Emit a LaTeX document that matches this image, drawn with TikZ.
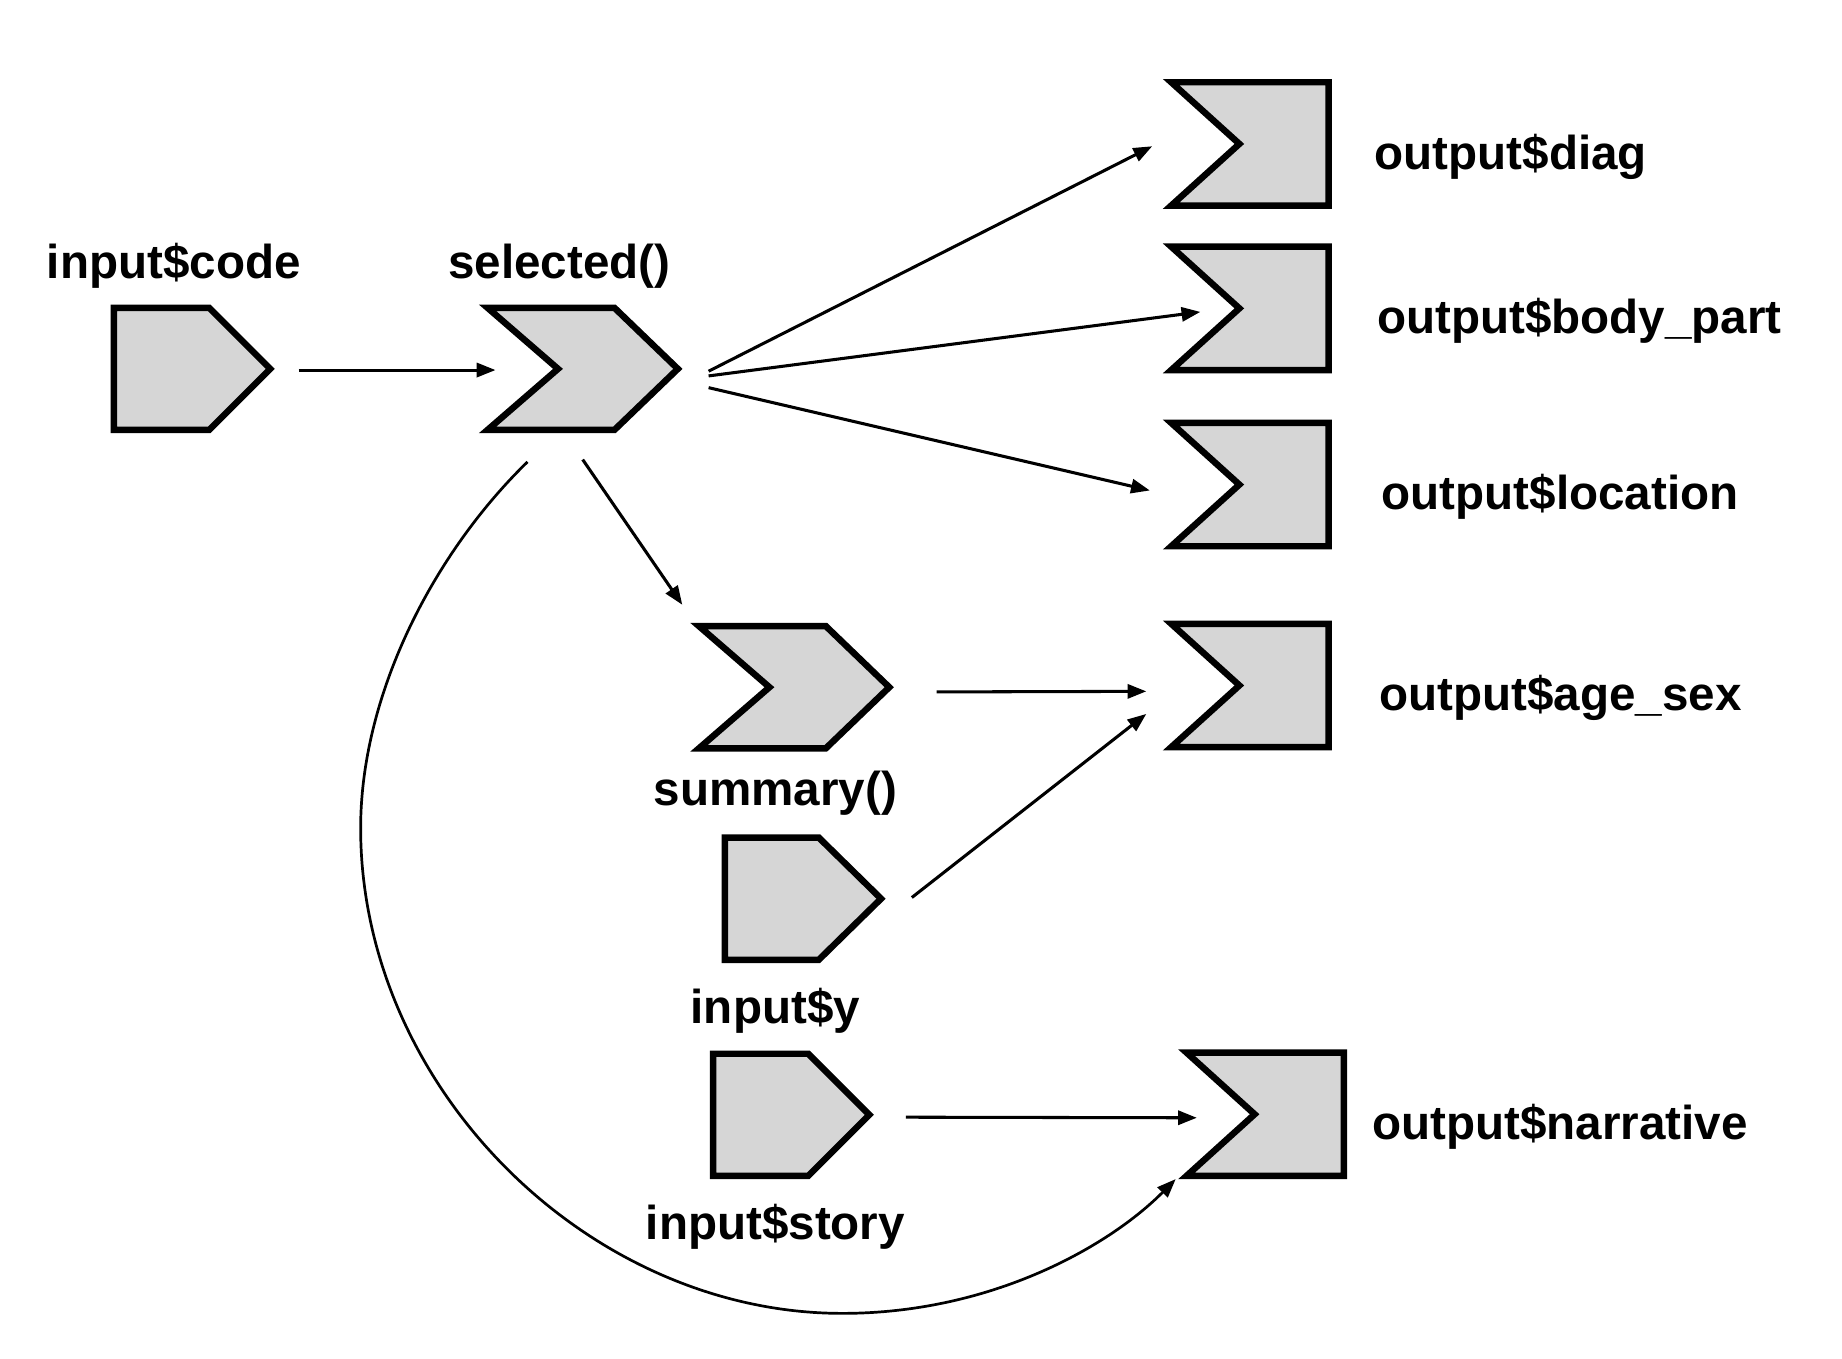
\documentclass[tikz,border=0pt]{standalone}
\usepackage{fontspec}
\setmainfont{Liberation Sans}
\usetikzlibrary{arrows.meta,calc}
\definecolor{shapefill}{RGB}{214,214,214}
\tikzset{
  shp/.style={draw=black,fill=shapefill,line width=5.5pt,miter limit=10},
  hold/.style={rectangle,inner sep=0pt,minimum width=#1,minimum height=104pt},
  conn/.style={line width=2.6pt,-{Triangle[length=16pt,width=12pt]}},
  lbl/.style={font=\fontsize{40.5}{48}\selectfont\bfseries,inner sep=0pt},
}
\newcommand\pentshape[4]{% name, left x, top y, shoulder
  \node[hold=133pt] (#1) at (#2+66.5,#3+52) {};
  \draw[shp] (#2,#3) -- ++(#4,0) -- ++(133-#4,52) -- ++(#4-133,52) -- ++(-#4,0) -- cycle;
}
\newcommand\chevshape[3]{% name, left x, top y
  \node[hold=162pt] (#1) at (#2+81,#3+52) {};
  \draw[shp] (#2,#3) -- ++(108,0) -- ++(54,52) -- ++(-54,52) -- ++(-108,0) -- ++(60,-52) -- cycle;
}
\newcommand\outshape[3]{% name, left x, top y
  \node[hold=134pt] (#1) at (#2+67,#3+52.5) {};
  \draw[shp] (#2,#3) -- ++(134,0) -- ++(0,105) -- ++(-134,0) -- ++(58,-52.5) -- cycle;
}
\begin{document}
\begin{tikzpicture}[x=1pt,y=-1pt]
\useasboundingbox (0,0) rectangle (1568,1156);
% shapes
\pentshape{code}{97}{262}{81}
\chevshape{selected}{415}{262}
\outshape{diag}{997}{70}
\outshape{body}{997}{210}
\outshape{location}{997}{360}
\chevshape{summary}{595}{533}
\outshape{agesex}{997}{531}
\pentshape{iny}{617}{713}{80}
\pentshape{story}{607}{897}{81}
\outshape{narrative}{1010}{896}
% labels
\node[lbl,anchor=base] (lcode) at (148,237) {input\$code};
\node[lbl,anchor=base] (lsel) at (476,237) {selected()};
\node[lbl,anchor=base west] (ldiag) at (1170,144) {output\$diag};
\node[lbl,anchor=base west] (lbody) at (1172,284) {output\$body\_part};
\node[lbl,anchor=base west] (lloc) at (1176,434) {output\$location};
\node[lbl,anchor=base west] (lage) at (1174,605) {output\$age\_sex};
\node[lbl,anchor=base] (lsum) at (660,686) {summary()};
\node[lbl,anchor=base] (liny) at (660,871) {input\$y};
\node[lbl,anchor=base] (lstory) at (660,1055) {input\$story};
\node[lbl,anchor=base west] (lnarr) at (1168,970) {output\$narrative};
% connectors
\draw[conn] ($(code.east)+(24,1)$) -- ($(selected.west)+(7,1)$);
\draw[conn] ($(selected.east)+(26,2)$) -- ($(diag.west)+(-16,2)$);
\draw[conn] ($(selected.east)+(26,6)$) -- ($(body.west)+(25,3)$);
\draw[conn] ($(selected.east)+(26,16)$) -- ($(location.west)+(-18,5)$);
\draw[conn] ($(selected.south)+(0,25)$) -- ($(summary.north west)+(-14,-18)$);
\draw[conn] ($(summary.east)+(40,4)$) -- ($(agesex.west)+(-21,5)$);
\draw[conn] ($(iny.east)+(26,-1)$) -- ($(agesex.south west)+(-21,-28)$);
\draw[conn] ($(story.east)+(31,2)$) -- ($(narrative.west)+(9,3)$);
\draw[conn,line width=2.3pt] ($(selected.south)+(-47,27)$)
  .. controls (370,470) and (307,590) .. (307,705)
  .. controls (307,925) and (500,1118) .. (717,1118)
  .. controls (845,1118) and (945,1060) .. ($(narrative.south west)+(-9,3)$);
\end{tikzpicture}
\end{document}
